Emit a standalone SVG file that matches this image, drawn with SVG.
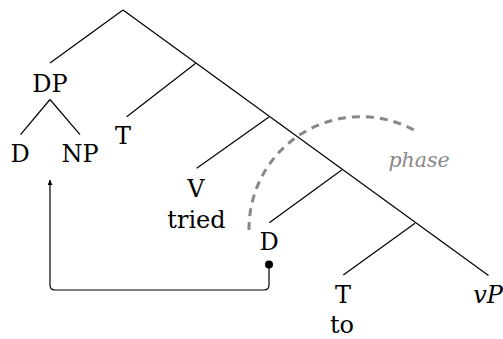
<svg xmlns="http://www.w3.org/2000/svg" width="503" height="339" viewBox="0 0 503 339">
<style>
.t{font-family:"DejaVu Serif","Liberation Serif",serif;font-size:24px;fill:#000;text-anchor:middle}
.i{font-style:italic}
.e{stroke:#000;stroke-width:1.2;fill:none}
</style>
<defs>
<marker id="ah" viewBox="0 0 10 10" refX="10" refY="5" markerWidth="7" markerHeight="5" orient="auto" markerUnits="userSpaceOnUse">
<path d="M0,0 L10,5 L0,10 z" fill="#000"/>
</marker>
</defs>
<g id="edges">
<path class="e" d="M123,10 L488.5,275.5"/>
<path class="e" d="M123,10 L50,63"/>
<path class="e" d="M195.7,63.3 L126.7,116.7"/>
<path class="e" d="M269.3,116.7 L196.7,168.3"/>
<path class="e" d="M341.7,170 L269.3,222.7"/>
<path class="e" d="M415,223.3 L343.3,275"/>
<path class="e" d="M50,99.5 L20.5,134.7"/>
<path class="e" d="M50,99.5 L80,134.7"/>
</g>
<g id="phase-arc">
<path d="M249,230 A112,112 0 0 1 414,130" fill="none" stroke="#888" stroke-width="3" stroke-dasharray="8,6"/>
<text class="t i" x="419" y="167" style="fill:#888;font-size:20.5px">phase</text>
</g>
<g id="movement">
<path class="e" d="M269,265 L269,285 Q269,290 264,290 L55,290 Q50,290 50,285 L50,180" marker-end="url(#ah)"/>
<circle cx="269" cy="264.5" r="4" fill="#000"/>
</g>
<g id="DP"><text class="t" x="50" y="92">DP</text></g>
<g id="D1"><text class="t" x="20" y="162">D</text></g>
<g id="NP"><text class="t" x="80" y="162">NP</text></g>
<g id="T1"><text class="t" x="123" y="144">T</text></g>
<g id="V"><text class="t" x="196" y="197">V</text><text class="t" x="196.5" y="228">tried</text></g>
<g id="D2"><text class="t" x="269" y="250">D</text></g>
<g id="T2"><text class="t" x="343" y="303">T</text><text class="t" x="342" y="333">to</text></g>
<g id="vP"><text class="t i" x="488" y="303">vP</text></g>
</svg>
